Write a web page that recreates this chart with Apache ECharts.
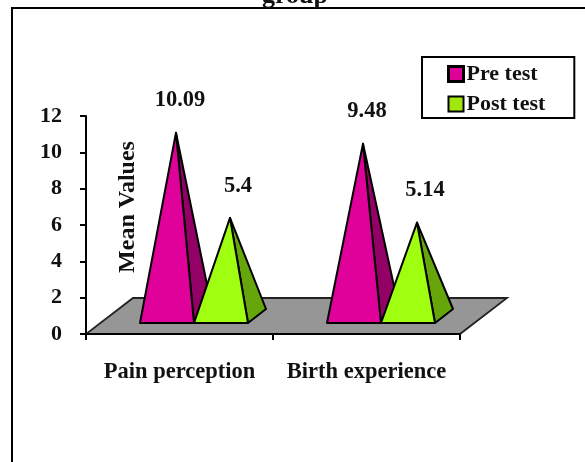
<!DOCTYPE html>
<html><head><meta charset="utf-8">
<style>html,body{margin:0;padding:0;background:#fff;overflow:hidden}#c{width:585px;height:462px}</style>
<script src="https://cdn.jsdelivr.net/npm/echarts@6/dist/echarts.min.js"></script>
</head><body><div id="c"></div>
<script>
const categories = ['Pain perception', 'Birth experience'];
const preTest = [10.09, 9.48];
const postTest = [5.4, 5.14];
const yTicks = { min: 0, max: 12, interval: 2 };
const FONT = '"Liberation Serif","Times New Roman",serif';
const INK = '#111';

// 3D projection, as fractions of one category band
const DEPTH_X = 0.2513, DEPTH_Y = 36 / 187;      // floor depth
const PYR_HALF = 0.1444, PYR_SHIFT = 0.1444;     // pyramid half-width, series offset
const PYR_DX = 0.0481, PYR_DY = 0.0374;          // half of pyramid depth

function pyramid(dir, front, side, labelDx, labelDy) {
  return function (params, api) {
    const band = api.size([1, 0])[0];
    const base = api.coord([api.value(0), 0]);
    const top = api.coord([api.value(0), api.value(1)]);
    const shiftX = band * (DEPTH_X / 2 + dir * PYR_SHIFT), shiftY = -band * DEPTH_Y / 2;
    const cx = base[0] + shiftX, cy = base[1] + shiftY;
    const hw = band * PYR_HALF, dx = band * PYR_DX, dy = band * PYR_DY;
    const apex = [top[0] + shiftX, top[1] + shiftY];
    const fl = [cx - hw - dx, cy + dy], fr = [cx + hw - dx, cy + dy], br = [cx + hw + dx, cy - dy];
    const stroke = { stroke: '#000', lineWidth: 2, lineJoin: 'round' };
    return {
      type: 'group',
      children: [
        { type: 'polygon', shape: { points: [fr, br, apex] }, style: Object.assign({ fill: side }, stroke) },
        { type: 'polygon', shape: { points: [fl, fr, apex] }, style: Object.assign({ fill: front }, stroke) },
        { type: 'text', style: { x: apex[0] + labelDx, y: apex[1] + labelDy, text: api.value(2), fill: INK,
            font: 'bold 22.5px ' + FONT, textAlign: 'center', textVerticalAlign: 'middle' } }
      ]
    };
  };
}

function floor(params, api) {
  const band = api.size([1, 0])[0];
  const o = api.coord([0, 0]);
  const left = o[0] - band / 2, right = left + band * categories.length;
  const dx = band * DEPTH_X, dy = band * DEPTH_Y;
  return { type: 'polygon',
    shape: { points: [[left, o[1]], [right, o[1]], [right + dx, o[1] - dy], [left + dx, o[1] - dy]] },
    style: { fill: '#969696', stroke: '#222', lineWidth: 1.8 } };
}

const rows = s => s.map((v, i) => [i, v, String(v)]);
const chart = echarts.init(document.getElementById('c'), null, { renderer: 'canvas' });
chart.setOption({
  animation: false,
  backgroundColor: '#fff',
  title: { text: 'group', left: 262, top: -17, padding: 0,
    textStyle: { fontFamily: FONT, fontWeight: 'bold', fontSize: 26, color: INK } },
  grid: { left: 86, right: 125, top: 116, bottom: 128 },
  legend: {
    orient: 'vertical', left: 422, top: 57, padding: [6, 29, 3, 25], itemGap: 8,
    borderColor: '#000', borderWidth: 2, borderRadius: 0, backgroundColor: '#fff',
    itemWidth: 15, itemHeight: 15, itemStyle: { borderColor: '#000' },
    textStyle: { fontFamily: FONT, fontWeight: 'bold', fontSize: 22, color: INK, padding: [0, 0, 0, -2] },
    data: [
      { name: 'Pre test', icon: 'rect', itemStyle: { color: '#e0009a', borderColor: '#000', borderWidth: 3 } },
      { name: 'Post test', icon: 'rect', itemStyle: { color: '#a0e810', borderColor: '#000', borderWidth: 2 } }
    ]
  },
  xAxis: {
    type: 'category', data: categories, z: 3,
    axisLine: { show: true, lineStyle: { color: '#000', width: 2 } },
    axisTick: { show: true, length: 6, alignWithLabel: false, lineStyle: { color: '#000', width: 2 } },
    axisLabel: { interval: 0, margin: 27, fontFamily: FONT, fontWeight: 'bold', fontSize: 22.5, color: INK },
    splitLine: { show: false }
  },
  yAxis: {
    type: 'value', min: yTicks.min, max: yTicks.max, interval: yTicks.interval, z: 3,
    name: 'Mean Values', nameLocation: 'middle', nameGap: -54, nameRotate: 90,
    nameTextStyle: { fontFamily: FONT, fontWeight: 'bold', fontSize: 24, color: INK, padding: [0, 0, 0, 36] },
    axisLine: { show: true, lineStyle: { color: '#000', width: 2 } },
    axisTick: { show: true, length: 6, lineStyle: { color: '#000', width: 2 } },
    axisLabel: { margin: 24, fontFamily: FONT, fontWeight: 'bold', fontSize: 22, color: INK, padding: [4, 0, 0, 0] },
    splitLine: { show: false }
  },
  series: [
    { type: 'custom', name: 'floor', z: 1, silent: true, renderItem: floor, data: [[0, 0]],
      encode: { x: 0, y: 1 }, clip: false },
    { type: 'custom', name: 'Pre test', z: 4, renderItem: pyramid(-1, '#e0009a', '#930066', 4, -33),
      data: rows(preTest), encode: { x: 0, y: 1 }, clip: false,
      itemStyle: { color: '#e0009a' } },
    { type: 'custom', name: 'Post test', z: 5, renderItem: pyramid(1, '#a0ff10', '#66a60a', 8, -32),
      data: rows(postTest), encode: { x: 0, y: 1 }, clip: false,
      itemStyle: { color: '#a0ff10' } }
  ],
  graphic: [
    { type: 'polyline', silent: true, z: 0,
      shape: { points: [[12, 462], [12, 8], [585, 8]] },
      style: { fill: null, stroke: '#000', lineWidth: 2 } }
  ]
});
</script>
</body></html>
